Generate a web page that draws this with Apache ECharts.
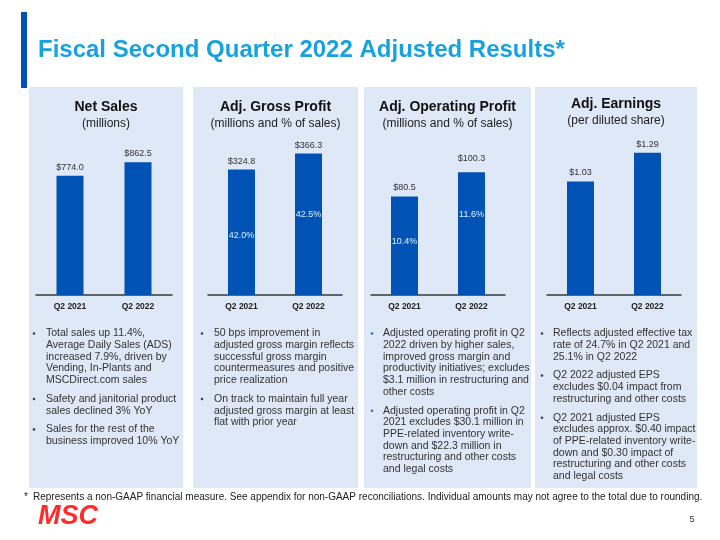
<!DOCTYPE html>
<html><head><meta charset="utf-8">
<script src="https://cdn.jsdelivr.net/npm/echarts@6.0.0/dist/echarts.min.js"></script>
<style>html,body{margin:0;padding:0;background:#fff}#c{width:720px;height:540px}</style>
</head><body><div id="c"></div>
<script>
// ---- data ----
const categories = ['Q2 2021', 'Q2 2022'];
const netSales = [774.0, 862.5];
const grossProfit = [324.8, 366.3];
const grossMarginPct = [42.0, 42.5];
const operatingProfit = [80.5, 100.3];
const operatingMarginPct = [10.4, 11.6];
const adjEPS = [1.03, 1.29];

const slideTitle = 'Fiscal Second Quarter 2022 Adjusted Results*';
const panelTitles = ['Net Sales', 'Adj. Gross Profit', 'Adj. Operating Profit', 'Adj. Earnings'];
const panelSubtitles = ['(millions)', '(millions and % of sales)', '(millions and % of sales)', '(per diluted share)'];
const netSalesNotes = [
  ['Total sales up 11.4%,', 'Average Daily Sales (ADS)', 'increased 7.9%, driven by', 'Vending, In-Plants and', 'MSCDirect.com sales'],
  ['Safety and janitorial product', 'sales declined 3% YoY'],
  ['Sales for the rest of the', 'business improved 10% YoY']
];
const grossProfitNotes = [
  ['50 bps improvement in', 'adjusted gross margin reflects', 'successful gross margin', 'countermeasures and positive', 'price realization'],
  ['On track to maintain full year', 'adjusted gross margin at least', 'flat with prior year']
];
const operatingProfitNotes = [
  ['Adjusted operating profit in Q2', '2022 driven by higher sales,', 'improved gross margin and', 'productivity initiatives; excludes', '$3.1 million in restructuring and', 'other costs'],
  ['Adjusted operating profit in Q2', '2021 excludes $30.1 million in', 'PPE-related inventory write-', 'down and $22.3 million in', 'restructuring and other costs', 'and legal costs']
];
const earningsNotes = [
  ['Reflects adjusted effective tax', 'rate of 24.7% in Q2 2021 and', '25.1% in Q2 2022'],
  ['Q2 2022 adjusted EPS', 'excludes $0.04 impact from', 'restructuring and other costs'],
  ['Q2 2021 adjusted EPS', 'excludes approx. $0.40 impact', 'of PPE-related inventory write-', 'down and $0.30 impact of', 'restructuring and other costs', 'and legal costs']
];
const footnote = 'Represents a non-GAAP financial measure. See appendix for non-GAAP reconciliations. Individual amounts may not agree to the total due to rounding.';
const pageNumber = '5';
const logoText = 'MSC';

// ---- layout / style ----
const FONT = '"Liberation Sans", Arial, sans-serif';
const BAR = '#0052B4';
const PANEL_BG = '#DEE8F6';
const panels = [{x: 29, w: 154}, {x: 193, w: 165}, {x: 364, w: 167}, {x: 535, w: 162}];
const grids = [
  {left: 36, width: 136, top: 141, height: 154},
  {left: 208, width: 134, top: 140.5, height: 154.5},
  {left: 371, width: 134, top: 148, height: 147},
  {left: 547, width: 134, top: 140.7, height: 154.3}
];
const yMax = [1000, 400, 120, 1.4];
const notes = [netSalesNotes, grossProfitNotes, operatingProfitNotes, earningsNotes];
const noteX = [46, 214, 383, 553];
const dotX = [34, 202, 372, 542];
const dotColor = ['#444', '#444', '#2F6FC4', '#444'];

const graphic = [];
graphic.push({type: 'rect', shape: {x: 21, y: 12, width: 6, height: 76}, style: {fill: '#0050B5'}, z: 0});
graphic.push({type: 'text', x: 38, y: 50, style: {text: slideTitle, font: 'bold 24px ' + FONT, fill: '#17A1DF', textAlign: 'left', textVerticalAlign: 'middle'}});
panels.forEach((p, i) => {
  graphic.push({type: 'rect', shape: {x: p.x, y: 87, width: p.w, height: 401}, style: {fill: PANEL_BG}, z: -10});
  const cx = p.x + p.w / 2;
  const ty = i === 3 ? 104.5 : 107.5;
  graphic.push({type: 'text', x: cx, y: ty, style: {text: panelTitles[i], font: 'bold 14px ' + FONT, fill: '#111', textAlign: 'center', textVerticalAlign: 'middle'}});
  graphic.push({type: 'text', x: cx, y: ty + 16, style: {text: panelSubtitles[i], font: '12px ' + FONT, fill: '#222', textAlign: 'center', textVerticalAlign: 'middle'}});
  // bullets
  const lh = 11.7, gap = 7;
  let y = 333.5;
  notes[i].forEach(lines => {
    graphic.push({type: 'circle', shape: {cx: dotX[i], cy: y, r: 1.3}, style: {fill: dotColor[i]}});
    graphic.push({type: 'text', x: noteX[i], y: y - lh / 2, style: {text: lines.join('\n'), font: '10.5px ' + FONT, lineHeight: lh, fill: '#333', textAlign: 'left', textVerticalAlign: 'top'}});
    y += lines.length * lh + gap;
  });
});
graphic.push({type: 'text', x: 24, y: 497.5, style: {text: '*', font: '10px ' + FONT, fill: '#222', textVerticalAlign: 'middle'}});
graphic.push({type: 'text', x: 33, y: 497.5, style: {text: footnote, font: '10px ' + FONT, fill: '#222', textVerticalAlign: 'middle'}});
graphic.push({type: 'text', x: 38, y: 517, style: {text: logoText, font: 'italic 900 27px ' + FONT, fill: '#FF2A2A', textVerticalAlign: 'middle'}});
graphic.push({type: 'text', x: 692, y: 520, style: {text: pageNumber, font: '9px ' + FONT, fill: '#333', textAlign: 'center', textVerticalAlign: 'middle'}});

const xAxis = grids.map((g, i) => ({
  type: 'category', gridIndex: i, data: categories,
  axisLine: {lineStyle: {color: '#3a3a3a', width: 1.5}},
  axisTick: {show: false},
  axisLabel: {fontFamily: FONT, fontWeight: 'bold', fontSize: 8.5, color: '#222', margin: 7}
}));
const yAxis = grids.map((g, i) => ({type: 'value', gridIndex: i, min: 0, max: yMax[i], show: false}));
yAxis.push({type: 'value', gridIndex: 1, min: 40.64, max: 44.2, show: false});
yAxis.push({type: 'value', gridIndex: 2, min: 8.07, max: 14.51, show: false});

const valueLabel = (digits) => ({
  show: true, position: 'top', distance: 4, fontFamily: FONT, fontSize: 9, color: '#333',
  formatter: p => '$' + Number(p.value).toFixed(digits)
});
const barSeries = (i, data, digits) => ({
  type: 'bar', xAxisIndex: i, yAxisIndex: i, data: data, barWidth: 27,
  itemStyle: {color: BAR}, label: valueLabel(digits)
});
const pctSeries = (i, axis, data) => ({
  type: 'line', xAxisIndex: i, yAxisIndex: axis, data: data,
  symbol: 'circle', symbolSize: 1, itemStyle: {color: 'rgba(0,0,0,0)'},
  lineStyle: {opacity: 0}, z: 5,
  label: {show: true, position: 'inside', fontFamily: FONT, fontSize: 9, color: '#E6EEFA', formatter: p => Number(p.value).toFixed(1) + '%'}
});

const opBar = barSeries(2, operatingProfit.map((v, k) => k === 1 ? {value: v, label: {distance: 9}} : v), 1);

const option = {
  animation: false,
  grid: grids,
  xAxis: xAxis,
  yAxis: yAxis,
  graphic: graphic,
  series: [
    barSeries(0, netSales, 1),
    barSeries(1, grossProfit, 1),
    opBar,
    barSeries(3, adjEPS, 2),
    pctSeries(1, 4, grossMarginPct),
    pctSeries(2, 5, operatingMarginPct)
  ]
};
const chart = echarts.init(document.getElementById('c'), null, {renderer: 'canvas'});
chart.setOption(option);
</script></body></html>
